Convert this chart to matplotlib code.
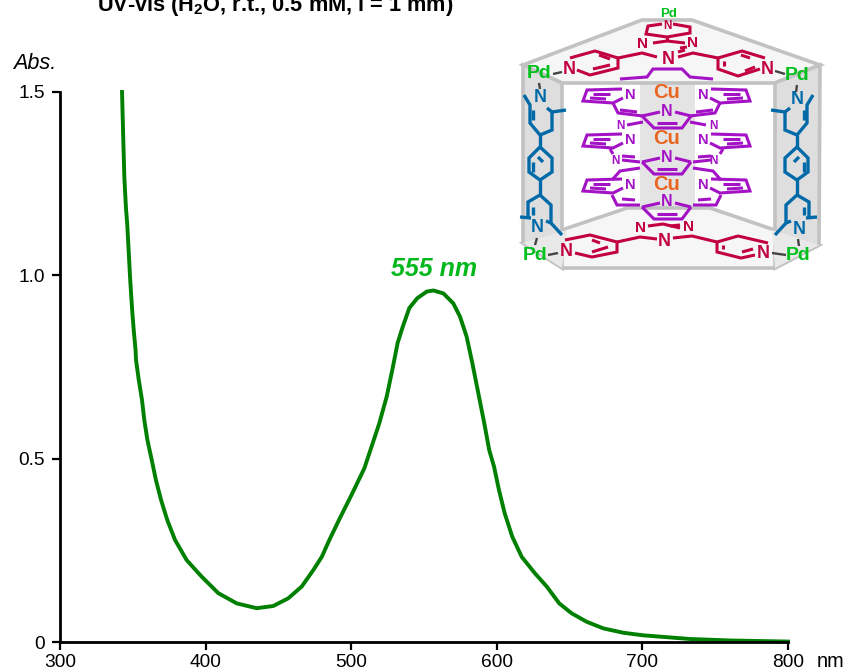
import matplotlib
matplotlib.use("Agg")
import matplotlib.pyplot as plt
from matplotlib.patches import Polygon

plt.rcParams['font.family'] = ['Liberation Sans', 'DejaVu Sans']
plt.rcParams['mathtext.fontset'] = 'custom'
plt.rcParams['mathtext.bf'] = 'Liberation Sans:bold'
plt.rcParams['mathtext.rm'] = 'Liberation Sans:bold'

# ---------- data ----------
wavelength = [342.6, 343.5, 344.2, 345.3, 346.2, 347.2, 348.1, 349.0, 349.9, 350.8, 351.9, 352.2,
              354.1, 356.3, 357.9, 360.0, 363.0, 365.9, 369.4, 373.7, 379.0, 387.0, 397.3, 408.7,
              421.4, 435.1, 446.5, 456.8, 466.0, 474.0, 479.8, 485.0, 492.3, 500.5, 509.0, 514.8,
              519.3, 524.4, 528.2, 531.9, 535.4, 539.9, 545.4, 551.9, 556.4, 563.3, 570.1, 574.7,
              579.3, 583.2, 587.3, 591.4, 594.8, 598.1, 601.5, 605.4, 610.6, 617.1, 626.2, 634.3,
              642.9, 651.4, 661.7, 673.1, 686.9, 700.6, 716.7, 732.7, 760.0, 800.0]
absorbance = [1.500, 1.365, 1.266, 1.184, 1.138, 1.064, 0.996, 0.939, 0.887, 0.843, 0.797, 0.770,
              0.715, 0.661, 0.606, 0.552, 0.497, 0.442, 0.388, 0.333, 0.279, 0.224, 0.179, 0.134,
              0.106, 0.093, 0.099, 0.120, 0.152, 0.197, 0.233, 0.279, 0.339, 0.404, 0.474, 0.543,
              0.597, 0.670, 0.742, 0.816, 0.860, 0.911, 0.938, 0.956, 0.959, 0.951, 0.924, 0.888,
              0.833, 0.761, 0.679, 0.597, 0.524, 0.479, 0.415, 0.352, 0.288, 0.233, 0.188, 0.152,
              0.106, 0.079, 0.056, 0.038, 0.026, 0.019, 0.014, 0.009, 0.005, 0.002]
x_ticks = [300, 400, 500, 600, 700, 800]
x_labels = ['300', '400', '500', '600', '700', '800']
y_ticks = [0, 0.5, 1.0, 1.5]
y_labels = ['0', '0.5', '1.0', '1.5']
title_text = r"UV-vis (H$\mathbf{_2}$O, r.t., 0.5 mM, l = 1 mm)"
peak_label = "555 nm"

W, H = 848, 672
fig = plt.figure(figsize=(W / 100, H / 100), dpi=100, facecolor='white')
ax = fig.add_axes([60 / W, (H - 642.3) / H, 728 / W, 550.3 / H])
ax.plot(wavelength, absorbance, color='#008000', lw=2.8, solid_joinstyle='round', clip_on=False)
ax.set_xlim(300, 800)
ax.set_ylim(0, 1.5)
ax.set_xticks(x_ticks, x_labels)
ax.set_yticks(y_ticks, y_labels)
for s in ('top', 'right'):
    ax.spines[s].set_visible(False)
for s in ('left', 'bottom'):
    ax.spines[s].set_linewidth(2.0)
ax.tick_params(axis='both', direction='out', length=6, width=1.6, labelsize=13.8, pad=3)
ax.tick_params(axis='x', pad=2.6)
ax.tick_params(axis='y', pad=5)

# ---------- overlay in picture coordinates ----------
ov = fig.add_axes([0, 0, 1, 1], facecolor='none')
ov.set_xlim(0, W)
ov.set_ylim(H, 0)
ov.axis('off')


def T(x, y, s, size, color='black', weight='normal', style='normal', ha='center', va='center'):
    ov.text(x, y, s, fontsize=size, color=color, fontweight=weight, fontstyle=style, ha=ha, va=va, zorder=6)


T(97, 11, title_text, 15.7, weight='bold', ha='left', va='baseline')
T(13, 69, 'Abs.', 15.6, style='italic', ha='left', va='baseline')
T(817, 667, 'nm', 14.3, ha='left', va='baseline')
T(391, 276, peak_label, 18, color='#00b81c', weight='bold', style='italic', ha='left', va='baseline')

# ---------- schematic box ----------
EDGE = '#c2c2c2'
LIGHT = '#f6f6f6'
WALL = '#dedede'


def box(pts, face, z=1):
    ov.add_patch(Polygon(pts, closed=True, fc=face, ec=EDGE, lw=2.6, joinstyle='miter', zorder=z))


ov.add_patch(Polygon([(640, 83), (695, 83), (695, 210), (640, 210)], fc='#e4e4e4', ec='none', zorder=1))
box([(523, 243), (627, 208), (710, 208), (819, 245), (775, 268), (563, 268)], LIGHT)
box([(523, 65), (642, 20), (692, 20), (820, 65), (775, 83), (562, 83)], LIGHT)
box([(523, 65), (562, 83), (562, 268), (523, 243)], WALL)
box([(820, 65), (775, 83), (775, 268), (819, 245)], WALL)
ov.add_patch(Polygon([(523, 243), (567, 230), (562, 268)], fc='#e9e9e9', ec='none', zorder=1.5))
ov.add_patch(Polygon([(819, 245), (772, 230), (775, 268)], fc='#e9e9e9', ec='none', zorder=1.5))


def L(pts, color, lw=2.2, mirror=None):
    xs = [p[0] for p in pts]
    ys = [p[1] for p in pts]
    if mirror is not None:
        xs = [mirror - v for v in xs]
    ov.plot(xs, ys, color=color, lw=lw, solid_capstyle='butt', solid_joinstyle='miter', zorder=4)


RED = '#c2003f'
PURPLE = '#a312c4'
BLUE = '#0069a8'
PDG = '#00c01e'
ORANGE = '#ea6620'
BOND = '#444444'

# red ligands, top
for seg in [
    [(577, 70), (590, 75), (618, 68), (618, 58), (595, 51), (570, 58)],
    [(593, 69), (610, 65)], [(599, 55), (610, 59)],
    [(618, 58), (642, 53), (657, 57)], [(678, 57), (693, 53), (718, 58)],
    [(718, 58), (718, 69), (738, 76), (760, 69)], [(765, 58), (742, 51), (718, 58)],
    [(724, 61), (724, 66)], [(745, 71), (755, 67)], [(741, 55), (750, 58)],
    [(653, 43), (667, 41), (685, 43)], [(667, 37), (667, 41)],
    [(678, 52), (685, 50)], [(680, 48), (687, 47)],
    [(662, 24), (648, 26), (646, 34), (667, 37), (690, 33), (690, 27), (673, 24)],
]:
    L(seg, RED)
# red ligands, bottom
for seg in [
    [(565, 240), (590, 235), (617, 242), (617, 252), (592, 257), (575, 253)],
    [(592, 252), (608, 247)], [(592, 240), (600, 243)],
    [(617, 242), (640, 237), (657, 239)], [(673, 238), (692, 236), (717, 242)],
    [(717, 242), (717, 252), (741, 258), (755, 255)], [(768, 243), (738, 236), (717, 242)],
    [(723, 245), (723, 249)], [(742, 252), (753, 249)],
    [(648, 226), (663, 224), (680, 228)], [(670, 226), (680, 225)],
]:
    L(seg, RED)

# purple: partly hidden top ligand
L([(620, 79), (647, 77), (653, 69), (682, 69), (690, 77), (713, 79)], PURPLE)

# purple: central rings
for yn in (110, 156, 201):
    L([(642, yn + 6), (654, yn + 18), (682, yn + 18), (691, yn + 6)], PURPLE)
    L([(657, yn + 13), (677, yn + 13)], PURPLE)
    L([(642, yn + 6), (660, yn + 2)], PURPLE)
    L([(691, yn + 6), (675, yn + 2)], PURPLE)
    T(667, yn + 1, 'N', 11.5, color=PURPLE, weight='bold')

# purple: pyridyl wings, left half and its mirror image
for m in (None, 1333):
    for yn in (95, 140, 185):
        L([(622, yn - 6), (587, yn - 5), (583, yn + 6), (613, yn + 8), (623, yn + 3)], PURPLE, mirror=m)
        L([(593, yn - 1), (610, yn - 1)], PURPLE, mirror=m)
        L([(590, yn + 3), (606, yn + 4)], PURPLE, mirror=m)
        T(630 if m is None else 703, yn, 'N', 10.5, color=PURPLE, weight='bold')
    L([(613, 103), (618, 113), (643, 116)], PURPLE, mirror=m)
    L([(620, 110), (637, 112)], PURPLE, mirror=m)
    L([(627, 125), (643, 122)], PURPLE, mirror=m)
    L([(610, 149), (613, 154)], PURPLE, mirror=m)
    L([(622, 156), (635, 157)], PURPLE, mirror=m)
    L([(622, 160), (640, 162)], PURPLE, mirror=m)
    L([(612, 180), (620, 171), (640, 168)], PURPLE, mirror=m)
    L([(612, 195), (617, 205), (640, 205)], PURPLE, mirror=m)
    L([(622, 199), (635, 200)], PURPLE, mirror=m)
    nx = 620 if m is None else 713
    T(nx, 126, 'N', 8.5, color=PURPLE, weight='bold')
    T(nx - 5 if m is None else nx, 161, 'N', 8.5, color=PURPLE, weight='bold')

# blue bipyridine pillars, left and mirrored right
for m in (None, 1337):
    for seg in [
        [(524, 95), (530, 105), (530, 123), (540, 135), (552, 130), (552, 112), (547, 108)],
        [(552, 112), (566, 110)], [(533, 110), (533, 120)],
        [(540, 135), (540, 147)],
        [(540, 147), (552, 158), (552, 172), (540, 180), (529, 172), (529, 158), (540, 147)],
        [(533, 162), (533, 172)], [(538, 157), (543, 162)],
        [(540, 180), (540, 195)],
        [(540, 195), (551, 205), (551, 223), (562, 235)], [(551, 223), (546, 221)],
        [(540, 195), (528, 202), (528, 218)], [(520, 217), (531, 218)],
        [(533, 207), (533, 215)],
    ]:
        L(seg, BLUE, lw=2.4, mirror=m)

# palladium bonds
for seg in [[(553, 74), (562, 72)], [(539, 83), (540, 89)],
            [(775, 71), (785, 74)], [(797, 85), (796, 92)],
            [(548, 255), (558, 253)], [(537, 238), (535, 245)],
            [(772, 253), (786, 255)], [(798, 239), (799, 246)]]:
    L(seg, BOND, lw=1.7)

# atom labels
for x, y in [(569, 69), (767, 69), (668, 59), (566, 252), (763, 253), (664, 241)]:
    T(x, y, 'N', 13, color=RED, weight='bold')
for x, y in [(643, 44), (692, 43), (640, 228), (688, 227)]:
    T(x, y, 'N', 11, color=RED, weight='bold')
T(667, 26, 'N', 8.5, color=RED, weight='bold')
for x, y in [(540, 98), (797, 100), (537, 228), (799, 229)]:
    T(x, y, 'N', 13, color=BLUE, weight='bold')
for x, y in [(539, 74), (797, 76), (535, 255), (798, 255)]:
    T(x, y, 'Pd', 14, color=PDG, weight='bold')
T(669, 14, 'Pd', 9.5, color=PDG, weight='bold')
for y in (93, 139, 185):
    T(667, y, 'Cu', 14.5, color=ORANGE, weight='bold')

fig.savefig('out.png', dpi=100)
